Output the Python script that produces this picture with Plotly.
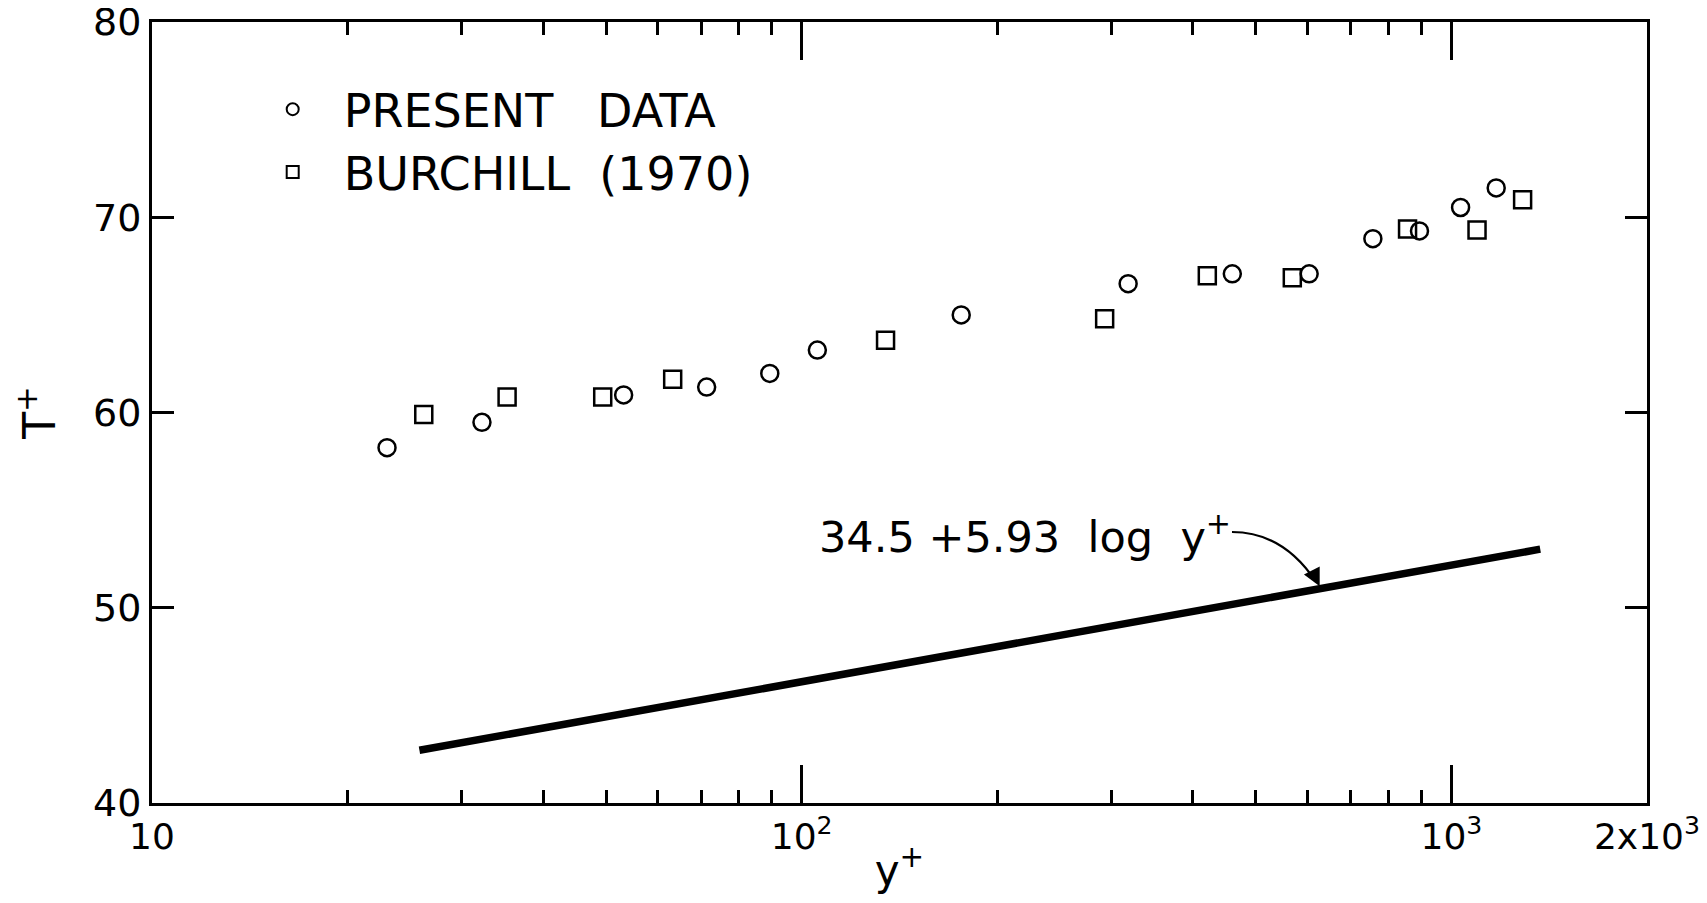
import plotly.graph_objects as go
import math

# ---- data ----
present_x = [23.0, 32.2, 53.2, 71.4, 89.3, 105.7, 176, 318, 460, 604, 757, 893, 1033, 1172]
present_y = [58.2, 59.5, 60.9, 61.3, 62.0, 63.2, 65.0, 66.6, 67.1, 67.1, 68.9, 69.3, 70.5, 71.5]

burchill_x = [26.2, 35.2, 49.4, 63.3, 134.6, 292.6, 421, 569, 856, 1095, 1287]
burchill_y = [59.9, 60.8, 60.8, 61.7, 63.7, 64.8, 67.0, 66.9, 69.4, 69.35, 70.9]

law_x = [25.8, 1370]
law_y = [42.7, 53.0]

x_tickvals = [10, 100, 1000, 2000]
x_ticktext = ["10", "10<sup>2</sup>", "10<sup>3</sup>", "2x10<sup>3</sup>"]
x_minor = [20, 30, 40, 50, 60, 70, 80, 90, 200, 300, 400, 500, 600, 700, 800, 900]
y_tickvals = [40, 50, 60, 70, 80]

FONT = "DejaVu Sans, sans-serif"

fig = go.Figure()
fig.add_trace(go.Scatter(
    x=law_x, y=law_y, mode="lines", showlegend=False,
    line=dict(color="black", width=7.5)))
fig.add_trace(go.Scatter(
    x=present_x, y=present_y, mode="markers", name="PRESENT&nbsp;&nbsp; DATA",
    marker=dict(symbol="circle-open", size=17, color="black", line=dict(width=2.5))))
fig.add_trace(go.Scatter(
    x=burchill_x, y=burchill_y, mode="markers", name="BURCHILL&nbsp; (1970)",
    marker=dict(symbol="square-open", size=17, color="black", line=dict(width=2.5))))

fig.update_layout(
    width=1691, height=887,
    margin=dict(l=144, r=52, t=14, b=92),
    paper_bgcolor="white", plot_bgcolor="white",
    font=dict(family=FONT, color="black", size=38),
    legend=dict(x=0.060, y=0.935, xanchor="left", yanchor="top",
                font=dict(size=46), itemsizing="constant", itemwidth=92,
                bgcolor="rgba(0,0,0,0)"),
    xaxis=dict(type="log", range=[1, math.log10(2000)], automargin=False,
               tickvals=x_tickvals, ticktext=x_ticktext, ticklabeloverflow="allow",
               ticks="inside", ticklen=38, tickwidth=2.5, tickcolor="black",
               minor=dict(tickvals=x_minor, ticks="inside", ticklen=13, tickwidth=2.5, tickcolor="black"),
               showline=True, linecolor="black", linewidth=3, mirror="ticks",
               showgrid=False, zeroline=False,
               tickfont=dict(size=36),
               title=dict(text="y<sup>+</sup>", font=dict(size=42), standoff=28)),
    yaxis=dict(range=[40, 80], tickvals=y_tickvals, automargin=False,
               ticklabeloverflow="allow",
               ticks="inside", ticklen=22, tickwidth=2.5, tickcolor="black",
               showline=True, linecolor="black", linewidth=3, mirror="ticks",
               showgrid=False, zeroline=False,
               tickfont=dict(size=38),
               title=dict(text="T<sup>+</sup>", font=dict(size=44), standoff=30)),
)

fig.add_annotation(
    xref="paper", yref="paper", x=0.445, y=0.345, xanchor="left", yanchor="middle",
    text="34.5 +5.93&nbsp; log&nbsp; y<sup>+</sup>", showarrow=False,
    font=dict(size=43, family=FONT, color="black"))

# curved leader from the label to the line
fig.add_shape(type="path", xref="paper", yref="paper",
              path="M 0.7224,0.347 Q 0.7565,0.347 0.7785,0.2835",
              line=dict(color="black", width=2.2))
fig.add_annotation(
    x=math.log10(627), y=51.1, xref="x", yref="y", text="",
    showarrow=True, arrowhead=2, arrowsize=1.6, arrowwidth=2.2, arrowcolor="black",
    ax=-8, ay=-16, standoff=0)

fig.write_html("out.html")
